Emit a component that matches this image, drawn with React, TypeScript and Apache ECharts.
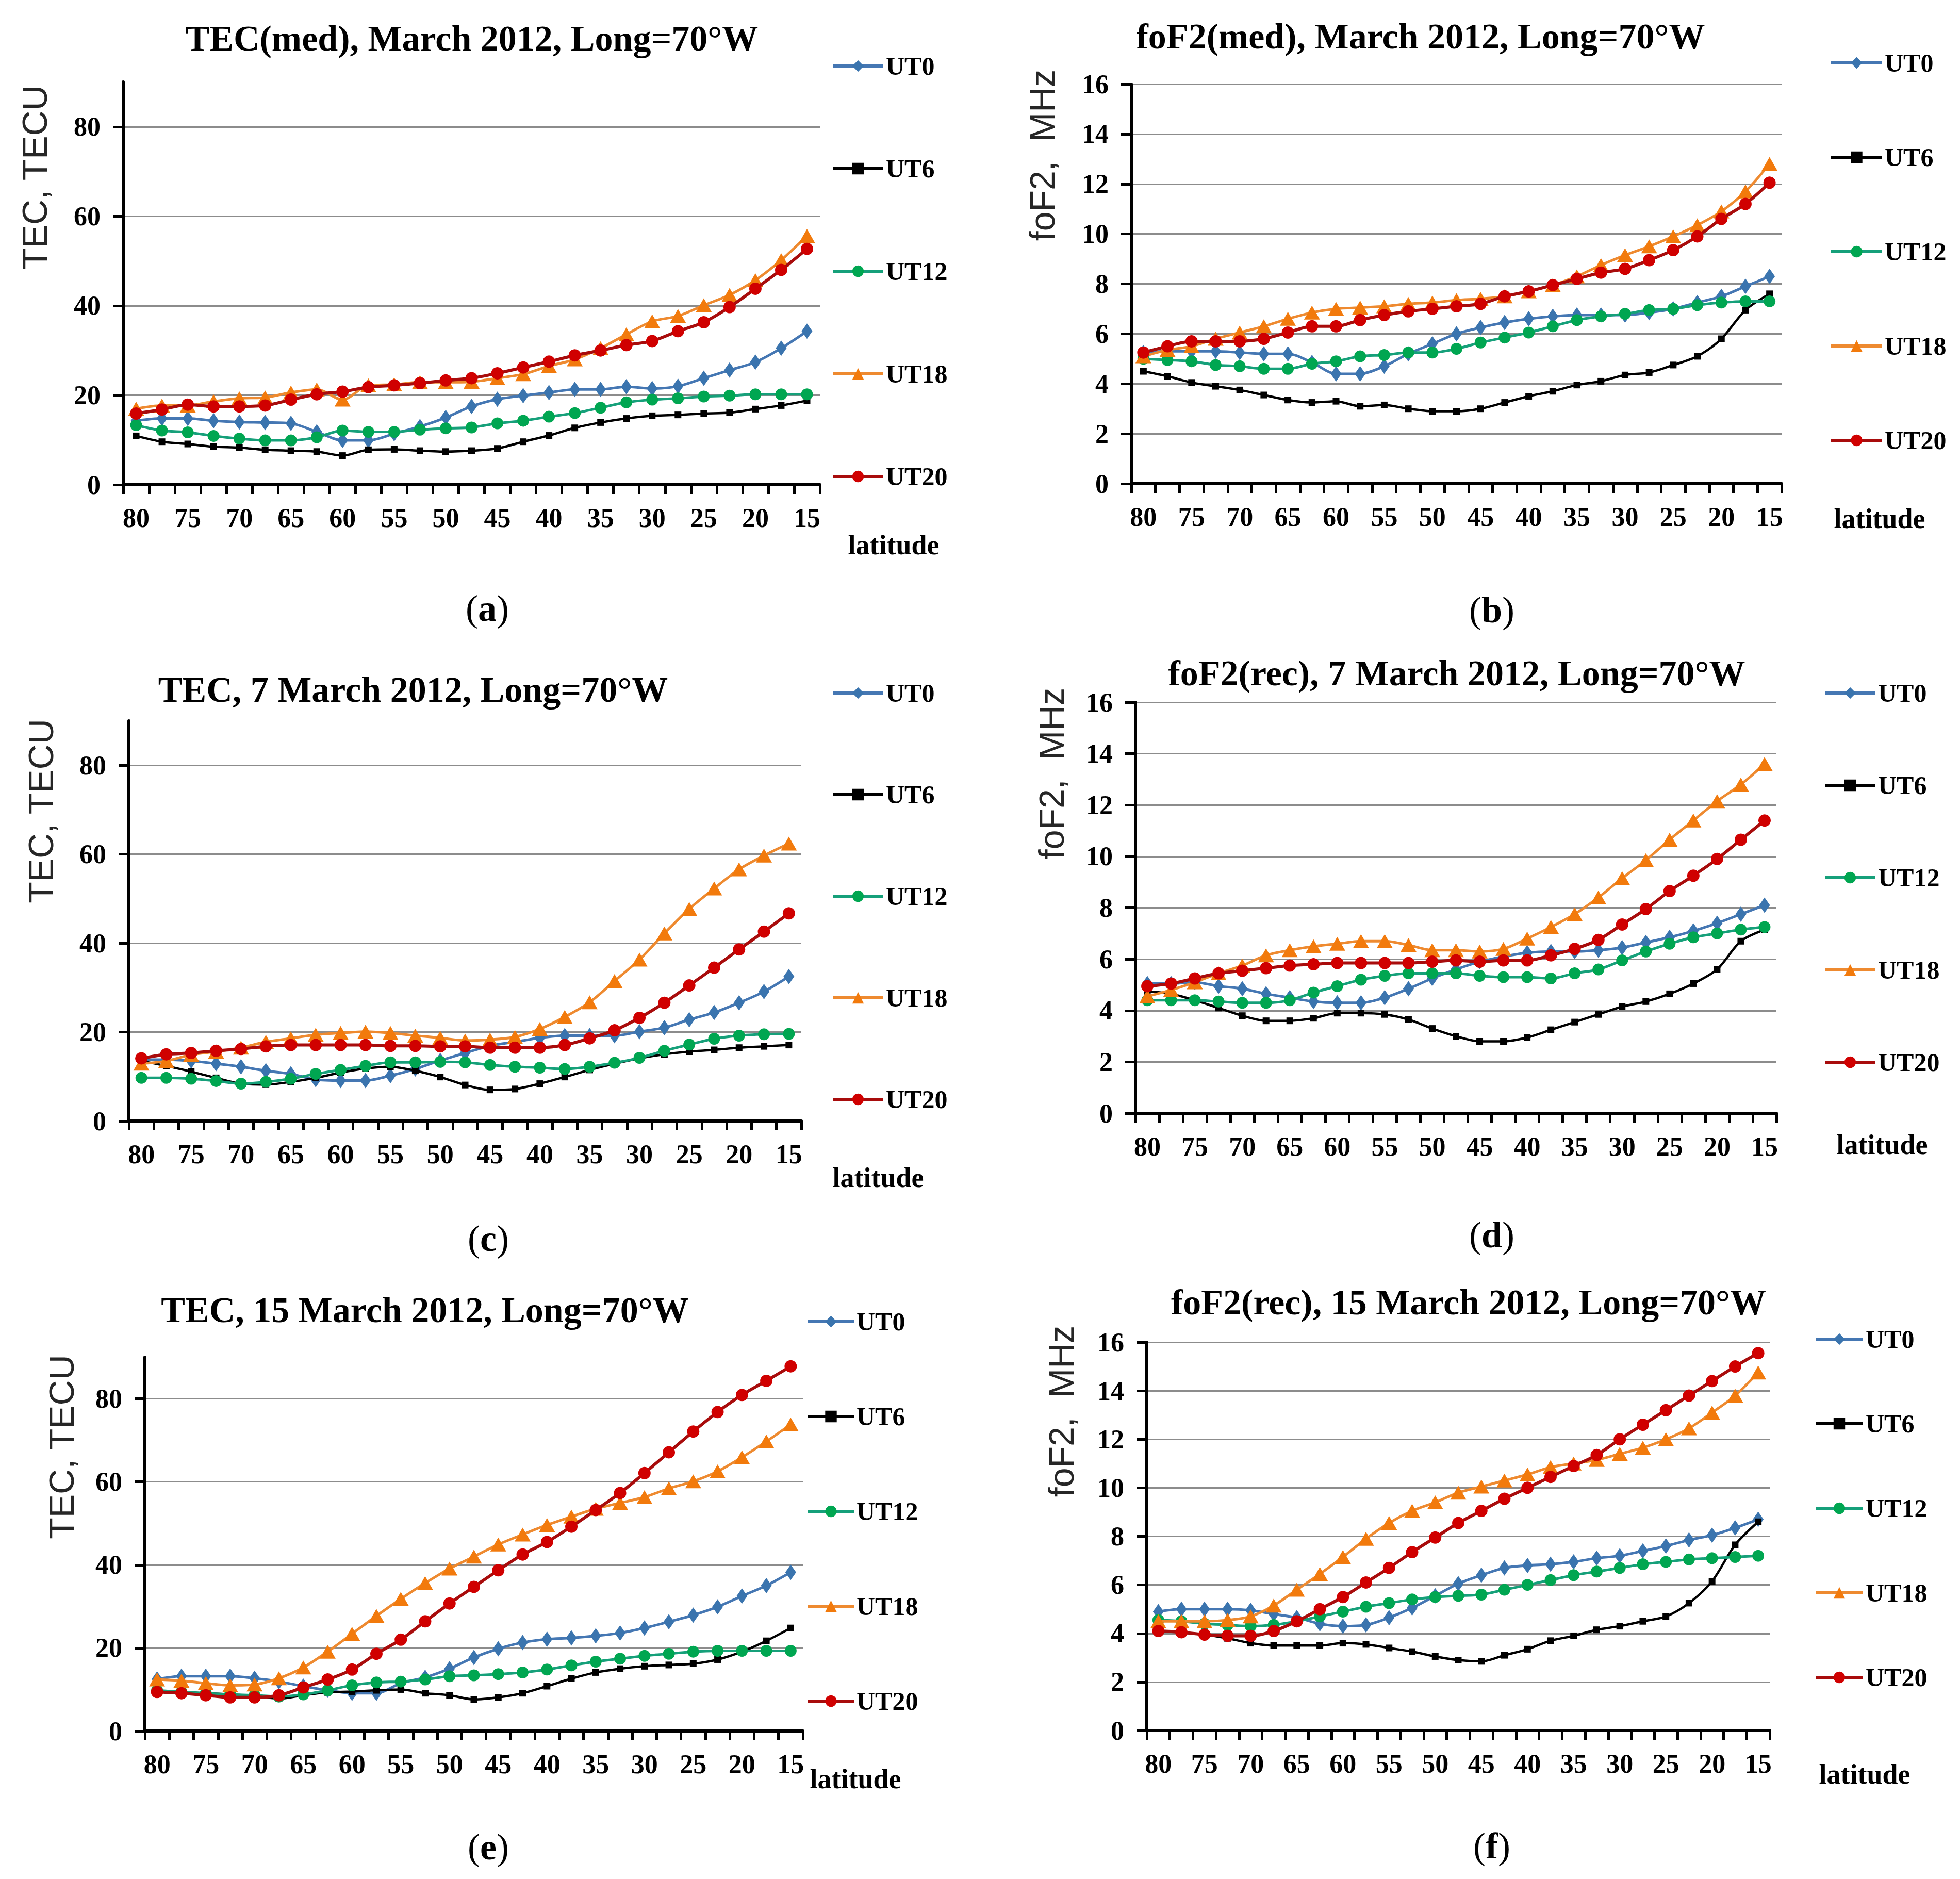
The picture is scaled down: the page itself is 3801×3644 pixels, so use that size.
import React, { useEffect, useRef } from 'react';
import * as echarts from 'echarts';

// ---------- DATA ----------
const latitudes = ['80', '77.5', '75', '72.5', '70', '67.5', '65', '62.5', '60', '57.5', '55', '52.5', '50', '47.5', '45', '42.5', '40', '37.5', '35', '32.5', '30', '27.5', '25', '22.5', '20', '17.5', '15'];
const seriesNames = ['UT0', 'UT6', 'UT12', 'UT18', 'UT20'];
const tecTicks = [0, 20, 40, 60, 80];

// (a) TEC(med), March 2012
const tecMedUT0 = [14.3, 14.8, 14.8, 14.3, 14, 13.9, 13.7, 11.8, 9.9, 9.9, 11.4, 13, 15, 17.5, 19.1, 19.9, 20.6, 21.3, 21.3, 21.9, 21.5, 22, 23.8, 25.6, 27.4, 30.5, 34.3];
const tecMedUT6 = [10.9, 9.6, 9.1, 8.5, 8.3, 7.8, 7.6, 7.4, 6.5, 7.8, 7.9, 7.6, 7.4, 7.6, 8.1, 9.6, 11, 12.7, 13.9, 14.8, 15.4, 15.6, 15.9, 16.1, 16.9, 17.7, 18.8];
const tecMedUT12 = [13.3, 12.1, 11.7, 10.9, 10.3, 9.9, 9.9, 10.6, 12.1, 11.8, 11.8, 12.3, 12.6, 12.8, 13.7, 14.3, 15.2, 16, 17.2, 18.4, 19, 19.3, 19.7, 19.9, 20.2, 20.2, 20.2];
const tecMedUT18 = [17, 17.7, 17.7, 18.6, 19.3, 19.5, 20.6, 21.3, 19, 22.2, 22.4, 22.9, 22.9, 23, 23.8, 24.7, 26.5, 28, 30.5, 33.6, 36.5, 37.7, 40.1, 42.4, 45.7, 50.2, 55.6];
const tecMedUT20 = [15.9, 16.8, 17.9, 17.5, 17.5, 17.7, 19, 20.2, 20.8, 21.8, 22.2, 22.7, 23.3, 23.8, 24.9, 26.2, 27.5, 28.9, 30, 31.2, 32.1, 34.3, 36.3, 39.7, 43.8, 48, 52.7];

// (b) foF2(med), March 2012
const fofMedUT0 = [5.25, 5.3, 5.3, 5.3, 5.25, 5.2, 5.2, 4.85, 4.4, 4.4, 4.7, 5.2, 5.6, 6.0, 6.25, 6.45, 6.6, 6.7, 6.75, 6.75, 6.75, 6.85, 7.0, 7.25, 7.5, 7.9, 8.3];
const fofMedUT6 = [4.5, 4.3, 4.05, 3.9, 3.75, 3.55, 3.35, 3.25, 3.3, 3.1, 3.15, 3.0, 2.9, 2.9, 3.0, 3.25, 3.5, 3.7, 3.95, 4.1, 4.35, 4.45, 4.75, 5.1, 5.8, 6.95, 7.6];
const fofMedUT12 = [5.0, 4.95, 4.9, 4.75, 4.7, 4.6, 4.6, 4.8, 4.9, 5.1, 5.15, 5.25, 5.25, 5.4, 5.65, 5.85, 6.05, 6.3, 6.55, 6.7, 6.8, 6.95, 7.0, 7.15, 7.25, 7.3, 7.3];
const fofMedUT18 = [5.1, 5.35, 5.5, 5.8, 6.05, 6.3, 6.6, 6.85, 7.0, 7.05, 7.1, 7.2, 7.25, 7.35, 7.4, 7.5, 7.7, 7.95, 8.3, 8.75, 9.15, 9.5, 9.9, 10.35, 10.9, 11.7, 12.8];
const fofMedUT20 = [5.25, 5.5, 5.7, 5.7, 5.7, 5.8, 6.05, 6.3, 6.3, 6.55, 6.75, 6.9, 7.0, 7.1, 7.2, 7.5, 7.7, 7.95, 8.2, 8.45, 8.6, 8.95, 9.35, 9.9, 10.6, 11.2, 12.05];

// (c) TEC, 7 March 2012
const tec7UT0 = [13.8, 13.8, 13.5, 12.9, 12.2, 11.3, 10.6, 9.3, 9.1, 9.1, 10.2, 11.7, 13.6, 15.3, 16.9, 17.8, 18.7, 19.2, 19.2, 19.2, 20.1, 21, 22.8, 24.4, 26.6, 29.1, 32.5];
const tec7UT6 = [13.5, 12.4, 11.1, 9.7, 8.4, 8.2, 8.8, 9.7, 10.9, 11.8, 12.2, 11.3, 9.9, 8.1, 7.0, 7.2, 8.4, 9.9, 11.5, 12.9, 14.1, 15.0, 15.6, 16.0, 16.5, 16.8, 17.1];
const tec7UT12 = [9.7, 9.7, 9.5, 9.0, 8.4, 8.8, 9.5, 10.6, 11.5, 12.4, 13.2, 13.2, 13.3, 13.2, 12.6, 12.2, 12.0, 11.7, 12.2, 13.1, 14.2, 15.8, 17.2, 18.5, 19.2, 19.5, 19.6];
const tec7UT18 = [12.9, 13.5, 14.9, 15.6, 16.5, 17.8, 18.6, 19.4, 19.8, 20.1, 19.8, 19.2, 18.7, 18.1, 18.3, 18.9, 20.7, 23.4, 26.7, 31.5, 36.3, 42.2, 47.7, 52.3, 56.6, 59.7, 62.4];
const tec7UT20 = [14.1, 15.0, 15.3, 15.8, 16.2, 16.8, 17.1, 17.1, 17.1, 17.1, 16.9, 16.9, 16.8, 16.8, 16.5, 16.5, 16.5, 17.1, 18.6, 20.4, 23.2, 26.6, 30.5, 34.5, 38.6, 42.6, 46.7];

// (d) foF2(rec), 7 March 2012
const fof7UT0 = [5.05, 5.05, 5.1, 4.95, 4.85, 4.65, 4.5, 4.35, 4.3, 4.3, 4.5, 4.85, 5.25, 5.6, 5.9, 6.1, 6.25, 6.3, 6.3, 6.35, 6.45, 6.65, 6.85, 7.1, 7.4, 7.75, 8.1];
const fof7UT6 = [4.75, 4.65, 4.4, 4.1, 3.8, 3.6, 3.6, 3.7, 3.9, 3.9, 3.85, 3.65, 3.3, 3.0, 2.8, 2.8, 2.95, 3.25, 3.55, 3.85, 4.15, 4.35, 4.65, 5.05, 5.6, 6.7, 7.15];
const fof7UT12 = [4.4, 4.4, 4.4, 4.35, 4.3, 4.3, 4.4, 4.7, 4.95, 5.2, 5.35, 5.45, 5.45, 5.45, 5.35, 5.3, 5.3, 5.25, 5.45, 5.6, 5.95, 6.3, 6.6, 6.85, 7.0, 7.15, 7.25];
const fof7UT18 = [4.55, 4.8, 5.1, 5.45, 5.75, 6.15, 6.35, 6.5, 6.6, 6.7, 6.7, 6.55, 6.35, 6.35, 6.3, 6.4, 6.8, 7.25, 7.75, 8.4, 9.15, 9.85, 10.65, 11.4, 12.15, 12.8, 13.6];
const fof7UT20 = [4.95, 5.05, 5.25, 5.45, 5.55, 5.65, 5.75, 5.8, 5.85, 5.85, 5.85, 5.85, 5.9, 5.95, 5.9, 5.95, 5.95, 6.15, 6.4, 6.75, 7.35, 7.95, 8.65, 9.25, 9.9, 10.65, 11.4];

// (e) TEC, 15 March 2012
const tec15UT0 = [12.5, 13.2, 13.2, 13.2, 12.7, 11.9, 10.8, 9.8, 9.1, 9.1, 11.5, 12.9, 15.0, 17.7, 19.8, 21.3, 22.1, 22.4, 22.9, 23.6, 24.8, 26.3, 27.9, 29.9, 32.5, 35.0, 38.2];
const tec15UT6 = [9.7, 9.4, 9.1, 8.8, 8.4, 7.8, 8.6, 9.3, 9.5, 9.8, 10.0, 9.1, 8.6, 7.6, 8.1, 9.1, 10.8, 12.6, 14.1, 15.0, 15.6, 15.9, 16.2, 17.2, 19.1, 21.7, 24.8];
const tec15UT12 = [9.8, 9.4, 9.1, 8.8, 8.6, 8.3, 8.8, 9.8, 11.0, 11.7, 11.9, 12.4, 13.2, 13.4, 13.7, 14.1, 14.8, 15.8, 16.7, 17.4, 18.1, 18.6, 19.1, 19.3, 19.3, 19.3, 19.3];
const tec15UT18 = [12.4, 12.1, 11.5, 11.0, 11.2, 12.7, 15.3, 19.1, 23.4, 27.7, 31.8, 35.6, 39.1, 42.0, 44.9, 47.3, 49.6, 51.6, 53.5, 54.9, 56.3, 58.4, 60.1, 62.5, 65.9, 69.7, 73.8];
const tec15UT20 = [9.4, 9.1, 8.6, 8.1, 8.1, 8.6, 10.5, 12.4, 14.8, 18.6, 22.0, 26.4, 30.7, 34.7, 38.7, 42.5, 45.5, 49.2, 53.2, 57.3, 62.1, 67.1, 72.1, 76.8, 80.9, 84.3, 87.8];

// (f) foF2(rec), 15 March 2012
const fof15UT0 = [4.9, 5.0, 5.0, 5.0, 4.95, 4.8, 4.65, 4.4, 4.3, 4.35, 4.65, 5.05, 5.55, 6.05, 6.4, 6.7, 6.8, 6.85, 6.95, 7.1, 7.2, 7.4, 7.6, 7.85, 8.05, 8.35, 8.7];
const fof15UT6 = [4.1, 4.05, 3.95, 3.8, 3.6, 3.5, 3.5, 3.5, 3.6, 3.55, 3.4, 3.25, 3.05, 2.9, 2.85, 3.1, 3.35, 3.7, 3.9, 4.15, 4.3, 4.5, 4.7, 5.25, 6.15, 7.65, 8.6];
const fof15UT12 = [4.55, 4.5, 4.4, 4.35, 4.3, 4.35, 4.5, 4.7, 4.9, 5.1, 5.25, 5.4, 5.5, 5.55, 5.6, 5.8, 6.0, 6.2, 6.4, 6.55, 6.7, 6.85, 6.95, 7.05, 7.1, 7.15, 7.2];
const fof15UT18 = [4.5, 4.5, 4.5, 4.55, 4.7, 5.15, 5.8, 6.45, 7.15, 7.9, 8.55, 9.05, 9.4, 9.8, 10.05, 10.3, 10.55, 10.85, 11.0, 11.15, 11.4, 11.65, 12.0, 12.45, 13.1, 13.8, 14.75];
const fof15UT20 = [4.1, 4.05, 3.95, 3.9, 3.9, 4.1, 4.5, 5.0, 5.5, 6.1, 6.7, 7.35, 7.95, 8.55, 9.05, 9.55, 10.0, 10.45, 10.9, 11.35, 12.0, 12.6, 13.2, 13.8, 14.4, 15.0, 15.55];

const panelTitles = [
  'TEC(med), March 2012, Long=70\u00B0W',
  'foF2(med), March 2012, Long=70\u00B0W',
  'TEC, 7 March 2012, Long=70\u00B0W',
  'foF2(rec), 7 March 2012, Long=70\u00B0W',
  'TEC, 15 March 2012, Long=70\u00B0W',
  'foF2(rec), 15 March 2012, Long=70\u00B0W',
];
const panelLetters = ['a', 'b', 'c', 'd', 'e', 'f'];
const panelYNames = ['TEC, TECU', 'foF2,  MHz', 'TEC, TECU', 'foF2,  MHz', 'TEC, TECU', 'foF2,  MHz'];
const panelIsTec = [true, false, true, false, true, false];
const panelData = [
  [tecMedUT0, tecMedUT6, tecMedUT12, tecMedUT18, tecMedUT20],
  [fofMedUT0, fofMedUT6, fofMedUT12, fofMedUT18, fofMedUT20],
  [tec7UT0, tec7UT6, tec7UT12, tec7UT18, tec7UT20],
  [fof7UT0, fof7UT6, fof7UT12, fof7UT18, fof7UT20],
  [tec15UT0, tec15UT6, tec15UT12, tec15UT18, tec15UT20],
  [fof15UT0, fof15UT6, fof15UT12, fof15UT18, fof15UT20],
];

// ---------- LAYOUT (pixels) ----------
const gridBoxes = [
  { left: 239, top: 159, width: 1351, height: 781 },
  { left: 2194, top: 163, width: 1261, height: 775 },
  { left: 250, top: 1398, width: 1304, height: 776 },
  { left: 2202, top: 1362, width: 1243, height: 797 },
  { left: 281, top: 2632, width: 1276, height: 725 },
  { left: 2224, top: 2603, width: 1208, height: 753 },
];
const legendBoxes = [
  { left: 1612, first: 128, step: 199, itemWidth: 98 },
  { left: 3548, first: 122, step: 183, itemWidth: 99 },
  { left: 1612, first: 1344, step: 197, itemWidth: 98 },
  { left: 3536, first: 1344, step: 179, itemWidth: 98 },
  { left: 1564, first: 2563, step: 184, itemWidth: 89 },
  { left: 3518, first: 2597, step: 164, itemWidth: 92 },
];
const titlePos = [[915, 74], [2755, 70], [801, 1337], [2825, 1305], [824, 2540], [2848, 2525]];
const yNamePos = [[67, 344], [2021, 301], [79, 1573], [2039, 1500], [119, 2806], [2058, 2737]];
const latPos = [[1733, 1057], [3645, 1006], [1703, 2284], [3650, 2220], [1659, 3450], [3616, 3441]];
const letterPos = [[945, 1180], [2893, 1183], [947, 2402], [2893, 2395], [947, 3582], [2893, 3580]];

const SERIF = '"Liberation Serif", "Times New Roman", serif';
const SANS = '"Liberation Sans", Arial, sans-serif';

const seriesStyles = [
  { symbol: 'diamond', size: [21, 30], line: '#4577B3', item: '#3A74AE', width: 5 },
  { symbol: 'rect', size: 13, line: '#000000', item: '#000000', width: 4.5 },
  { symbol: 'circle', size: 23, line: '#16A07A', item: '#00A651', width: 5 },
  { symbol: 'triangle', size: [31, 27], line: '#EE8A30', item: '#F27A0C', width: 5 },
  { symbol: 'circle', size: 24, line: '#A80C0C', item: '#D00000', width: 6 },
];

function buildOption() {
  const grid: any[] = [];
  const xAxis: any[] = [];
  const yAxis: any[] = [];
  const series: any[] = [];
  const legend: any[] = [];
  const graphic: any[] = [];
  const LEG_LH = 52;

  panelData.forEach((sets, i) => {
    const g = gridBoxes[i];
    grid.push({ left: g.left, top: g.top, width: g.width, height: g.height, containLabel: false });
    xAxis.push({
      type: 'category',
      gridIndex: i,
      data: latitudes,
      boundaryGap: true,
      axisLine: { show: true, onZero: true, lineStyle: { color: '#000', width: 6 } },
      axisTick: { show: true, interval: 0, length: 18, inside: false, lineStyle: { color: '#000', width: 5 } },
      axisLabel: { interval: 1, margin: 38, fontFamily: SERIF, fontWeight: 'bold', fontSize: 52, color: '#000' },
      splitLine: { show: false },
    });
    const tec = panelIsTec[i];
    const yTick: any = { show: true, length: 20, lineStyle: { color: '#000', width: 5 } };
    const yLabel: any = { margin: 44, fontFamily: SERIF, fontWeight: 'bold', fontSize: 52, color: '#000' };
    if (tec) {
      yTick.customValues = tecTicks;
      yLabel.customValues = tecTicks;
    }
    yAxis.push({
      type: 'value',
      gridIndex: i,
      min: 0,
      max: tec ? 90 : 16,
      interval: tec ? 20 : 2,
      axisLine: { show: true, lineStyle: { color: '#000', width: 6 } },
      axisTick: yTick,
      axisLabel: yLabel,
      splitLine: {
        show: true,
        lineStyle: {
          color: tec ? ['#8c8c8c', '#8c8c8c', '#8c8c8c', '#8c8c8c', '#8c8c8c', 'rgba(0,0,0,0)'] : '#8c8c8c',
          width: 3,
        },
      },
    });
    sets.forEach((vals, k) => {
      const st = seriesStyles[k];
      series.push({
        type: 'line',
        name: seriesNames[k],
        xAxisIndex: i,
        yAxisIndex: i,
        data: vals,
        smooth: 0.3,
        symbol: st.symbol,
        symbolSize: st.size,
        showAllSymbol: true,
        lineStyle: { color: st.line, width: st.width },
        itemStyle: { color: st.item, borderWidth: 0 },
        emphasis: { disabled: true },
        z: 2 + k,
      });
    });
    const lb = legendBoxes[i];
    legend.push({
      orient: 'vertical',
      left: lb.left,
      top: lb.first - LEG_LH / 2,
      padding: 0,
      itemWidth: lb.itemWidth,
      itemHeight: 28,
      itemGap: lb.step - LEG_LH,
      selectedMode: false,
      data: seriesNames,
      lineStyle: { width: 6 },
      textStyle: { fontFamily: SERIF, fontWeight: 'bold', fontSize: 50, lineHeight: LEG_LH, color: '#000' },
    });

    graphic.push({
      type: 'text',
      x: titlePos[i][0],
      y: titlePos[i][1],
      style: {
        text: panelTitles[i],
        fontFamily: SERIF,
        fontWeight: 'bold',
        fontSize: 70,
        fill: '#000',
        align: 'center',
        verticalAlign: 'middle',
      },
    });
    graphic.push({
      type: 'text',
      x: yNamePos[i][0],
      y: yNamePos[i][1],
      rotation: Math.PI / 2,
      style: {
        text: panelYNames[i],
        fontFamily: SANS,
        fontSize: 68,
        fill: '#262626',
        align: 'center',
        verticalAlign: 'middle',
      },
    });
    graphic.push({
      type: 'text',
      x: latPos[i][0],
      y: latPos[i][1],
      style: {
        text: 'latitude',
        fontFamily: SERIF,
        fontWeight: 'bold',
        fontSize: 54,
        fill: '#000',
        align: 'center',
        verticalAlign: 'middle',
      },
    });
    graphic.push({
      type: 'text',
      x: letterPos[i][0],
      y: letterPos[i][1],
      style: {
        text: '{p|(}{b|' + panelLetters[i] + '}{p|)}',
        align: 'center',
        verticalAlign: 'middle',
        rich: {
          p: { fontFamily: SERIF, fontSize: 72, fontWeight: 'normal', fill: '#000' },
          b: { fontFamily: SERIF, fontSize: 72, fontWeight: 'bold', fill: '#000' },
        },
      },
    });
  });

  return {
    animation: false,
    backgroundColor: '#ffffff',
    grid,
    xAxis,
    yAxis,
    series,
    legend,
    graphic,
  };
}

export default function App() {
  const ref = useRef<HTMLDivElement>(null);
  useEffect(() => {
    document.body.style.margin = '0';
    if (!ref.current) return;
    const chart = echarts.init(ref.current, undefined, { renderer: 'svg' });
    chart.setOption(buildOption() as any);
    return () => {
      chart.dispose();
    };
  }, []);
  return <div ref={ref} style={{ width: 3801, height: 3644, background: '#fff' }} />;
}
